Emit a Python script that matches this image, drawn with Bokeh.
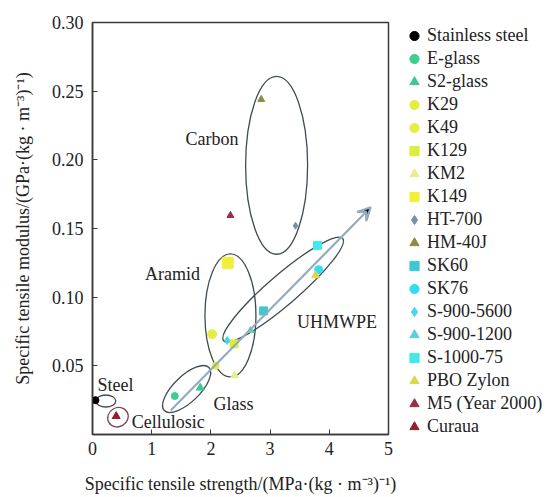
import math
from bokeh.plotting import figure
from bokeh.layouts import row
from bokeh.models import (ColumnDataSource, FixedTicker, NumeralTickFormatter,
                          Arrow, VeeHead, Range1d, Legend, LegendItem)
from bokeh.core.properties import value
from bokeh.embed import file_html
from bokeh.resources import INLINE

# ---- data ----
materials = ["Stainless steel", "E-glass", "S2-glass", "K29", "K49", "K129", "KM2",
             "K149", "HT-700", "HM-40J", "SK60", "SK76", "S-900-5600", "S-900-1200",
             "S-1000-75", "PBO Zylon", "M5 (Year 2000)", "Curaua"]
strength = [0.05, 1.39, 1.82, 2.08, 2.02, 2.39, 2.40, 2.285, 3.43, 2.85,
            2.89, 3.82, 2.275, 2.67, 3.80, 3.77, 2.33, 0.40]
modulus = [0.025, 0.028, 0.034, 0.050, 0.073, 0.066, 0.043, 0.125, 0.152, 0.244,
           0.090, 0.120, 0.0685, 0.0757, 0.1377, 0.1158, 0.1595, 0.0133]

# styles
markers = ["circle", "circle", "triangle", "circle", "circle", "square", "triangle",
           "square", "diamond", "triangle", "square", "circle", "diamond", "triangle",
           "square", "triangle", "triangle", "triangle"]
colors = ["#000000", "#3ccf90", "#3cc890", "#e4ee3c", "#e6ee44", "#dcee3c", "#e8ee90",
          "#f0f03c", "#7890a0", "#8c8c44", "#3cc8d4", "#30def0", "#44d8ea", "#58d0d4",
          "#44e8ea", "#d8d850", "#983040", "#902030"]
sizes = [7, 7, 8, 7, 9, 8, 8, 11, 7, 7, 8, 8, 8, 7, 8, 8, 7, 8]
legend_sizes = [5, 6, 6, 5, 6, 7, 6, 7, 5, 6, 6, 6, 6, 6, 6, 6, 6, 6]

# group ellipses
groups = ["Carbon", "Aramid", "UHMWPE", "Glass", "Steel", "Cellulosic"]
ell_x = [3.11, 2.33, 3.22, 1.59, 0.225, 0.43]
ell_y = [0.196, 0.0867, 0.1055, 0.0331, 0.0244, 0.0126]
ell_w = [62, 51, 157, 62, 20, 21]
ell_h = [178, 123, 30, 26, 12, 19]
ell_angle = [0, 0, 40.7, 44, 0, 30]
ell_color = ["#3f4c52", "#3f4c52", "#3f4c52", "#3f4c52", "#3f4c52", "#7a4a55"]

label_x = [2.02, 1.35, 4.13, 2.38, 0.39, 1.28]
label_y = [0.2154, 0.117, 0.0818, 0.0224, 0.0364, 0.0090]

arrow_start = (1.32, 0.0175)
arrow_end = (4.70, 0.1655)

x_ticks = [0, 1, 2, 3, 4, 5]
y_ticks = [0, 0.05, 0.10, 0.15, 0.20, 0.25, 0.30]

FONT = "Liberation Serif"
H = 496

p = figure(width=400, height=H, output_backend="svg", toolbar_location=None,
           x_range=Range1d(0, 5), y_range=Range1d(0, 0.30),
           min_border_left=92, min_border_right=12, min_border_top=22,
           min_border_bottom=62)

p.xgrid.visible = False
p.ygrid.visible = False
p.outline_line_color = "#3a3a3a"
p.outline_line_width = 1.5

for ax in (p.xaxis[0], p.yaxis[0]):
    ax.axis_line_color = "#3a3a3a"
    ax.axis_line_width = 1.5
    ax.major_tick_in = 5
    ax.major_tick_out = 0
    ax.minor_tick_in = 0
    ax.minor_tick_out = 0
    ax.major_tick_line_color = "#3a3a3a"
    ax.major_label_text_font = FONT
    ax.major_label_text_font_size = "18px"
    ax.major_label_text_color = "#222222"
    ax.axis_label_text_font = FONT
    ax.axis_label_text_font_size = "18px"
    ax.axis_label_text_font_style = "normal"
    ax.axis_label_text_color = "#222222"

p.xaxis.ticker = FixedTicker(ticks=x_ticks)
p.yaxis.ticker = FixedTicker(ticks=y_ticks)
p.yaxis.formatter = NumeralTickFormatter(format="0.00")
p.yaxis.major_label_overrides = {0: ""}
p.xaxis.major_label_standoff = 7
p.yaxis.major_label_standoff = 9
p.xaxis.axis_label_standoff = 16
p.yaxis.axis_label_standoff = 16
p.xaxis.axis_label = "Specific tensile strength/(MPa\u00b7(kg \u00b7 m\u207b\u00b3)\u207b\u00b9)"
p.yaxis.axis_label = "Specific tensile modulus/(GPa\u00b7(kg \u00b7 m\u207b\u00b3)\u207b\u00b9)"

# ellipses
esrc = ColumnDataSource(dict(x=ell_x, y=ell_y, w=ell_w, h=ell_h,
                             a=[math.radians(v) for v in ell_angle], c=ell_color))
p.ellipse(x="x", y="y", width="w", height="h", angle="a", source=esrc,
          width_units="screen", height_units="screen",
          fill_alpha=0, line_color="c", line_width=1.3)

# arrow
p.add_layout(Arrow(x_start=arrow_start[0], y_start=arrow_start[1],
                   x_end=arrow_end[0], y_end=arrow_end[1],
                   line_color="#93abba", line_width=2.2,
                   end=VeeHead(size=13, line_color="#93abba", line_width=2.2)))

# points
for name, xv, yv, mk, col, sz in zip(materials, strength, modulus, markers, colors, sizes):
    p.scatter(x=[xv], y=[yv], marker=mk, size=sz, fill_color=col, line_color=col)

# group labels
tsrc = ColumnDataSource(dict(x=label_x, y=label_y, t=groups))
p.text(x="x", y="y", text="t", source=tsrc, text_font=value(FONT),
       text_font_size="18px", text_align="center", text_baseline="middle",
       text_color="#222222")

# ---- legend panel (same series; its ranges keep the points themselves out of view) ----
lg = figure(width=153, height=H, output_backend="svg", toolbar_location=None,
            x_range=Range1d(100, 101), y_range=Range1d(100, 101),
            x_axis_location=None, y_axis_location=None,
            min_border_left=0, min_border_right=0, min_border_top=0,
            min_border_bottom=0)
lg.grid.visible = False
lg.outline_line_color = None

items = []
for name, xv, yv, mk, col, sz in zip(materials, strength, modulus, markers, colors,
                                     legend_sizes):
    r = lg.scatter(x=[xv], y=[yv], marker=mk, size=sz, fill_color=col, line_color=col)
    items.append(LegendItem(label=name, renderers=[r]))

leg = Legend(items=items, location=(1, -3.5))
leg.border_line_color = None
leg.background_fill_alpha = 0
leg.padding = 0
leg.margin = 0
leg.spacing = 0
leg.glyph_width = 26
leg.glyph_height = 23
leg.label_height = 23
leg.label_standoff = 0
leg.label_text_font = FONT
leg.label_text_font_size = "18px"
leg.label_text_color = "#222222"
lg.add_layout(leg, "center")

layout = row(p, lg, spacing=0)
open("out.html", "w").write(file_html(layout, INLINE))
